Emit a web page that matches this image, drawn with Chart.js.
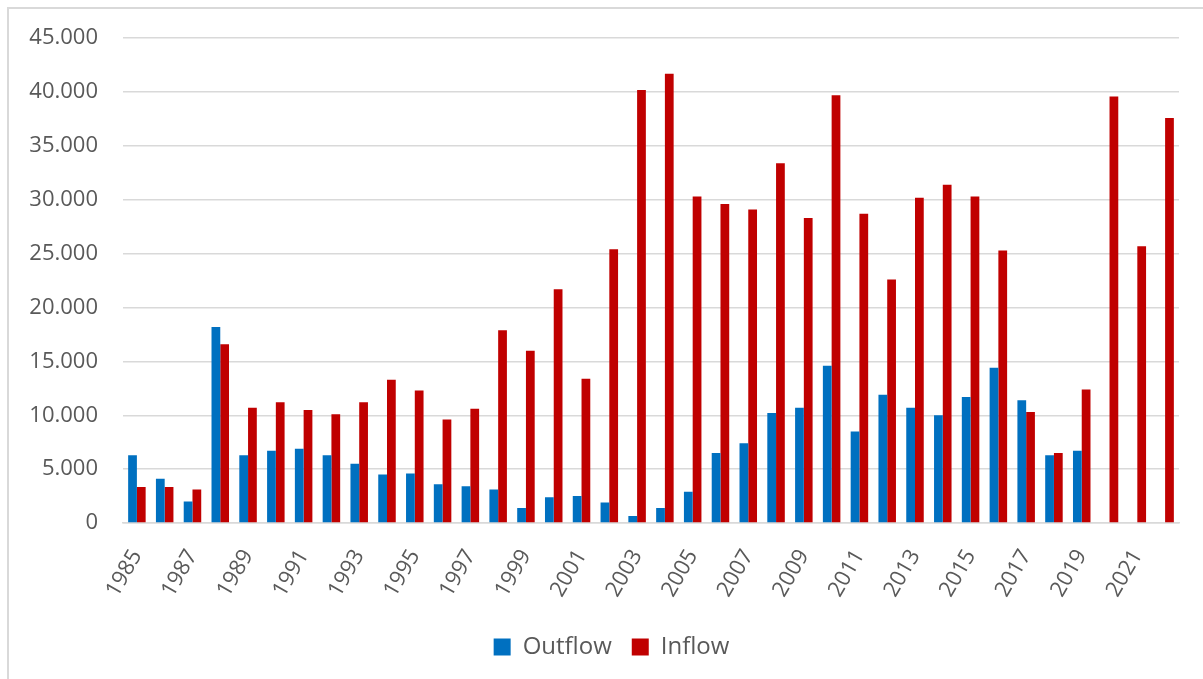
<!DOCTYPE html>
<html>
<head>
<meta charset="utf-8">
<script src="https://cdn.jsdelivr.net/npm/chart.js@4/dist/chart.umd.min.js"></script>
<style>
  html, body { margin: 0; padding: 0; background: #ffffff; }
  #wrap { position: relative; width: 1203px; height: 679px; }
  canvas { display: block; }
</style>
</head>
<body>
<div id="wrap"><canvas id="chart" width="1203" height="679"></canvas></div>
<script>
// Annual flows, 1985–2022
const years = [
  '1985','1986','1987','1988','1989','1990','1991','1992','1993','1994',
  '1995','1996','1997','1998','1999','2000','2001','2002','2003','2004',
  '2005','2006','2007','2008','2009','2010','2011','2012','2013','2014',
  '2015','2016','2017','2018','2019','2020','2021','2022'
];

const outflow = [
  6300, 4100, 2000, 18200, 6300, 6700, 6900, 6300, 5500, 4500,
  4600, 3600, 3400, 3100, 1400, 2400, 2500, 1900, 650, 1400,
  2900, 6500, 7400, 10200, 10700, 14600, 8500, 11900, 10700, 10000,
  11700, 14400, 11400, 6300, 6700, null, null, null
];

const inflow = [
  3350, 3350, 3100, 16600, 10700, 11200, 10500, 10100, 11200, 13300,
  12300, 9600, 10600, 17900, 16000, 21700, 13400, 25400, 40200, 41700,
  30300, 29600, 29100, 33400, 28300, 39700, 28700, 22600, 30200, 31400,
  30300, 25300, 10300, 6500, 12400, 39600, 25700, 37600
];

const yTicks = { min: 0, max: 45000, step: 5000 };

const FONT = "'Open Sans', 'Noto Sans', sans-serif";
const TEXT = '#595959';
const GRID = '#d9d9d9';

function thousands(v) {
  return String(v).replace(/\B(?=(\d{3})+(?!\d))/g, '.');
}

// Light frame along the top and left edges
const framePlugin = {
  id: 'frame',
  beforeDraw(chart) {
    const ctx = chart.ctx;
    ctx.save();
    ctx.strokeStyle = GRID;
    ctx.lineWidth = 2;
    ctx.beginPath();
    ctx.moveTo(8, chart.height);
    ctx.lineTo(8, 8);
    ctx.lineTo(chart.width, 8);
    ctx.stroke();
    ctx.restore();
  }
};

// Centre the legend row under the plot area rather than the whole canvas
const legendShift = {
  id: 'legendShift',
  afterLayout(chart) {
    const lg = chart.legend;
    if (!lg) return;
    const dx = 22;
    lg.left += dx;
    lg.right += dx;
  }
};

new Chart(document.getElementById('chart'), {
  type: 'bar',
  data: {
    labels: years,
    datasets: [
      { label: 'Outflow', data: outflow, backgroundColor: '#0070C0', borderWidth: 0 },
      { label: 'Inflow', data: inflow, backgroundColor: '#C00000', borderWidth: 0 }
    ]
  },
  options: {
    responsive: false,
    animation: false,
    devicePixelRatio: 1,
    categoryPercentage: 0.63,
    barPercentage: 1.0,
    layout: { padding: { left: 0, right: 24, top: 22, bottom: 10 } },
    plugins: {
      legend: {
        position: 'bottom',
        labels: {
          font: { family: FONT, size: 24 },
          color: TEXT,
          boxWidth: 17,
          boxHeight: 17,
          padding: 20
        }
      },
      tooltip: { enabled: false }
    },
    scales: {
      x: {
        grid: { display: false, drawTicks: false },
        border: { display: true, color: GRID, width: 1.5 },
        ticks: {
          autoSkip: false,
          minRotation: 60,
          maxRotation: 60,
          padding: 22,
          color: TEXT,
          font: { family: FONT, size: 22 },
          callback: function (value, index) {
            return index % 2 === 0 ? years[index] : '';
          }
        },
        afterFit(scale) {
          scale.height = 92;
          scale.paddingRight = 0;
        }
      },
      y: {
        min: yTicks.min,
        max: yTicks.max,
        grid: { color: GRID, lineWidth: 1.5, drawTicks: false },
        border: { display: false },
        ticks: {
          stepSize: yTicks.step,
          padding: 25,
          color: TEXT,
          font: { family: FONT, size: 22 },
          callback: v => thousands(v)
        },
        afterFit(scale) { scale.width = 123; }
      }
    }
  },
  plugins: [framePlugin, legendShift]
});
</script>
</body>
</html>
